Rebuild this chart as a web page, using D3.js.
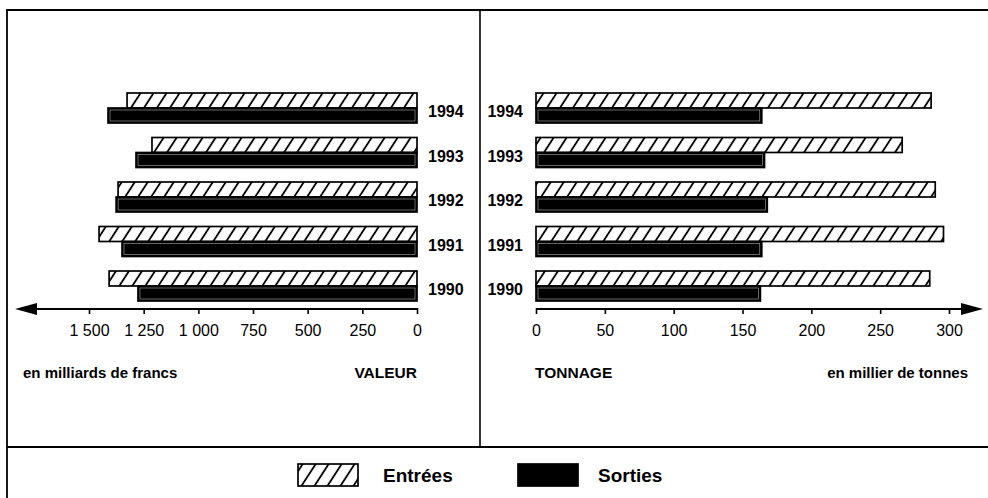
<!DOCTYPE html>
<html><head><meta charset="utf-8">
<script src="https://cdn.jsdelivr.net/npm/d3@7"></script>
<style>
html,body{margin:0;padding:0;background:#fff;}
svg{display:block;font-family:"Liberation Sans",Arial,Helvetica,sans-serif;}
</style></head>
<body>
<svg id="chart" width="988" height="498"></svg>
<script>
// ---- data ----
const years = [1994, 1993, 1992, 1991, 1990];
const valeurEntrees = [1326, 1212, 1367, 1454, 1408];
const valeurSorties = [1413, 1285, 1376, 1349, 1276];
const tonnageEntrees = [287, 266, 290, 296, 286];
const tonnageSorties = [164, 166, 168, 164, 163];
const valeurTicks = [0, 250, 500, 750, 1000, 1250, 1500];
const valeurTickLabels = ["0", "250", "500", "750", "1 000", "1 250", "1 500"];
const tonnageTicks = [0, 50, 100, 150, 200, 250, 300];
const seriesNames = ["Entrées", "Sorties"];

const svg = d3.select("#chart");
const defs = svg.append("defs");
const pat = defs.append("pattern").attr("id", "hatch")
  .attr("patternUnits", "userSpaceOnUse").attr("width", 13).attr("height", 10)
  .attr("patternTransform", "skewX(-33)");
pat.append("rect").attr("width", 13).attr("height", 10).attr("fill", "#fff");
pat.append("line").attr("x1", 6).attr("x2", 6).attr("y1", -1).attr("y2", 11)
  .attr("stroke", "#000").attr("stroke-width", 2.2);

// frame
svg.append("path").attr("d", "M7,498 V10 H990").attr("fill", "none").attr("stroke", "#000").attr("stroke-width", 1.8);
svg.append("line").attr("x1", 480).attr("x2", 480).attr("y1", 10).attr("y2", 447).attr("stroke", "#000").attr("stroke-width", 1.6);
svg.append("line").attr("x1", 7).attr("x2", 990).attr("y1", 447).attr("y2", 447).attr("stroke", "#000").attr("stroke-width", 1.8);

const y = d3.scaleBand().domain(years).range([93, 301]).paddingInner(14.5 / 44.5).paddingOuter(0);
const half = () => y.bandwidth() / 2;

const xL = d3.scaleLinear().domain([0, 1500]).range([417, 89]);
const xR = d3.scaleLinear().domain([0, 300]).range([536, 949]);
const axisY = 309;

function drawBars(g, xs, entrees, sorties) {
  const x0 = xs(0);
  g.selectAll("rect.ent").data(years).join("rect").attr("class", "ent")
    .attr("x", (d, i) => Math.min(x0, xs(entrees[i])))
    .attr("width", (d, i) => Math.abs(xs(entrees[i]) - x0))
    .attr("y", d => y(d)).attr("height", half())
    .attr("fill", "url(#hatch)").attr("stroke", "#000").attr("stroke-width", 1.7);
  g.selectAll("rect.sor").data(years).join("rect").attr("class", "sor")
    .attr("x", (d, i) => Math.min(x0, xs(sorties[i])))
    .attr("width", (d, i) => Math.abs(xs(sorties[i]) - x0))
    .attr("y", d => y(d) + half()).attr("height", half())
    .attr("fill", "#000").attr("stroke", "#000").attr("stroke-width", 1.7);
  g.selectAll("rect.sorin").data(years).join("rect").attr("class", "sorin")
    .attr("x", (d, i) => Math.min(x0, xs(sorties[i])) + 2)
    .attr("width", (d, i) => Math.abs(xs(sorties[i]) - x0) - 4)
    .attr("y", d => y(d) + half() + 2).attr("height", half() - 4)
    .attr("fill", "none").attr("stroke", "#aaa").attr("stroke-width", 0.6);
}
drawBars(svg.append("g"), xL, valeurEntrees, valeurSorties);
drawBars(svg.append("g"), xR, tonnageEntrees, tonnageSorties);

// year labels
const yl = svg.append("g").attr("font-weight", "bold").attr("font-size", 16);
yl.selectAll("text.l").data(years).join("text").attr("class", "l")
  .attr("x", 428).attr("y", d => y(d) + 24).text(d => d);
yl.selectAll("text.r").data(years).join("text").attr("class", "r")
  .attr("x", 523).attr("text-anchor", "end").attr("y", d => y(d) + 24).text(d => d);

// axes
const axL = d3.axisBottom(xL).tickValues(valeurTicks)
  .tickFormat((d, i) => valeurTickLabels[i]).tickSize(5).tickPadding(11);
const gL = svg.append("g").attr("transform", `translate(0,${axisY})`).call(axL);
const axR = d3.axisBottom(xR).tickValues(tonnageTicks).tickSize(5).tickPadding(11);
const gR = svg.append("g").attr("transform", `translate(0,${axisY})`).call(axR);
[gL, gR].forEach(g => {
  g.select(".domain").remove();
  g.selectAll(".tick line").attr("stroke", "#000").attr("stroke-width", 1.6).attr("y1", -1);
  g.selectAll(".tick text").attr("fill", "#000").attr("font-size", 16)
    .attr("font-family", "'Liberation Sans',Arial,Helvetica,sans-serif");
});
// axis lines with arrows
svg.append("line").attr("x1", xL(0)).attr("x2", 30).attr("y1", axisY).attr("y2", axisY).attr("stroke", "#000").attr("stroke-width", 1.8);
svg.append("path").attr("d", `M15,${axisY} L37,${axisY - 6} L37,${axisY + 6} Z`).attr("fill", "#000");
svg.append("line").attr("x1", xR(0)).attr("x2", 970).attr("y1", axisY).attr("y2", axisY).attr("stroke", "#000").attr("stroke-width", 1.8);
svg.append("path").attr("d", `M983,${axisY} L961,${axisY - 6} L961,${axisY + 6} Z`).attr("fill", "#000");

// titles
const tt = svg.append("g").attr("font-weight", "bold").attr("fill", "#000");
tt.append("text").attr("x", 23).attr("y", 378).attr("font-size", 15).text("en milliards de francs");
tt.append("text").attr("x", 417).attr("y", 378).attr("text-anchor", "end").attr("font-size", 15.5).text("VALEUR");
tt.append("text").attr("x", 535).attr("y", 378).attr("font-size", 15.5).text("TONNAGE");
tt.append("text").attr("x", 968).attr("y", 378).attr("text-anchor", "end").attr("font-size", 15).text("en millier de tonnes");

// legend
const lg = svg.append("g");
lg.append("rect").attr("x", 298).attr("y", 464).attr("width", 60).attr("height", 22)
  .attr("fill", "url(#hatch)").attr("stroke", "#000").attr("stroke-width", 1.7);
lg.append("text").attr("x", 383).attr("y", 482).attr("font-size", 19).attr("font-weight", "bold").text(seriesNames[0]);
lg.append("rect").attr("x", 518).attr("y", 464).attr("width", 60).attr("height", 22)
  .attr("fill", "#000").attr("stroke", "#000").attr("stroke-width", 1.7);
lg.append("text").attr("x", 598).attr("y", 482).attr("font-size", 19).attr("font-weight", "bold").text(seriesNames[1]);
</script>
</body></html>
